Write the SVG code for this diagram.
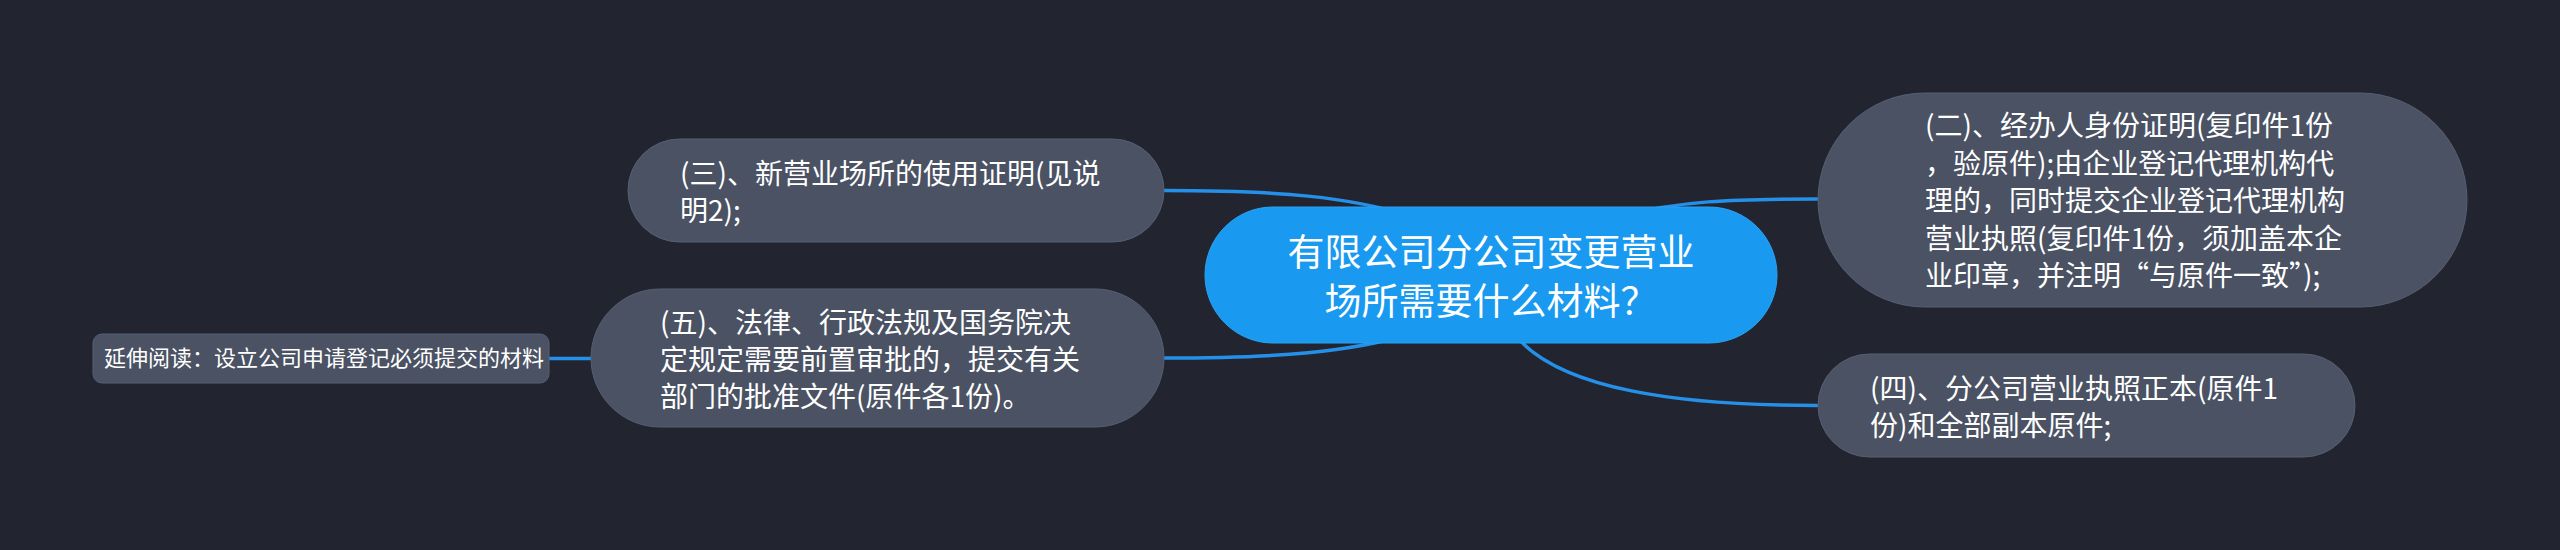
<svg xmlns="http://www.w3.org/2000/svg" width="2560" height="550" viewBox="0 0 2560 550">
<style>
.bg{fill:#22252f}
.node{fill:#4a5263;stroke:#566073;stroke-width:1}
.root{fill:#1999f0;stroke:#2aa3f5;stroke-width:1}
.t{font-family:"Noto Sans CJK SC","Noto Sans",sans-serif;fill:#ffffff}
.c{font-size:28px}
.r{font-size:37px;text-anchor:middle}
.s{font-size:22px}
.link{fill:none;stroke:#2590e8;stroke-width:3.5;stroke-linecap:round}
</style>
<rect class="bg" x="0" y="0" width="2560" height="550"/>
<g id="connectors">
<path class="link" d="M1164,190.5 C1280,190.5 1350,197 1410,216"/>
<path class="link" d="M1164,358 C1280,358 1350,352 1410,334"/>
<path class="link" d="M1817,199 C1730,199 1680,201 1620,216"/>
<path class="link" d="M1817,405.5 C1680,405.5 1560,390 1515,335"/>
<path class="link" d="M549,358.5 L591,358.5"/>
</g>
<g id="root">
<rect class="root" x="1205" y="207" width="572" height="136" rx="68" ry="68"/>
<text class="t r" x="1491" y="266">有限公司分公司变更营业</text>
<text class="t r" x="1491" y="315">场所需要什么材料？</text>
</g>
<g id="node2">
<rect class="node" x="1818" y="93" width="649" height="214" rx="107" ry="107"/>
<text class="t c" x="1925" y="136">(二)、经办人身份证明(复印件1份</text>
<text class="t c" x="1925" y="173.5">，验原件);由企业登记代理机构代</text>
<text class="t c" x="1925" y="211">理的，同时提交企业登记代理机构</text>
<text class="t c" x="1925" y="248.5">营业执照(复印件1份，须加盖本企</text>
<text class="t c" x="1925" y="286">业印章，并注明“与原件一致”);</text>
</g>
<g id="node4">
<rect class="node" x="1818" y="354" width="537" height="103" rx="51.5" ry="51.5"/>
<text class="t c" x="1870" y="399">(四)、分公司营业执照正本(原件1</text>
<text class="t c" x="1870" y="436">份)和全部副本原件;</text>
</g>
<g id="node3">
<rect class="node" x="628" y="139" width="536" height="103" rx="51.5" ry="51.5"/>
<text class="t c" x="680" y="184">(三)、新营业场所的使用证明(见说</text>
<text class="t c" x="680" y="221">明2);</text>
</g>
<g id="node5">
<rect class="node" x="591" y="289" width="573" height="138" rx="69" ry="69"/>
<text class="t c" x="660" y="333">(五)、法律、行政法规及国务院决</text>
<text class="t c" x="660" y="370">定规定需要前置审批的，提交有关</text>
<text class="t c" x="660" y="407">部门的批准文件(原件各1份)。</text>
</g>
<g id="extra">
<rect class="node" x="93" y="334" width="456" height="49" rx="9" ry="9"/>
<text class="t s" x="104" y="366">延伸阅读：设立公司申请登记必须提交的材料</text>
</g>
</svg>
